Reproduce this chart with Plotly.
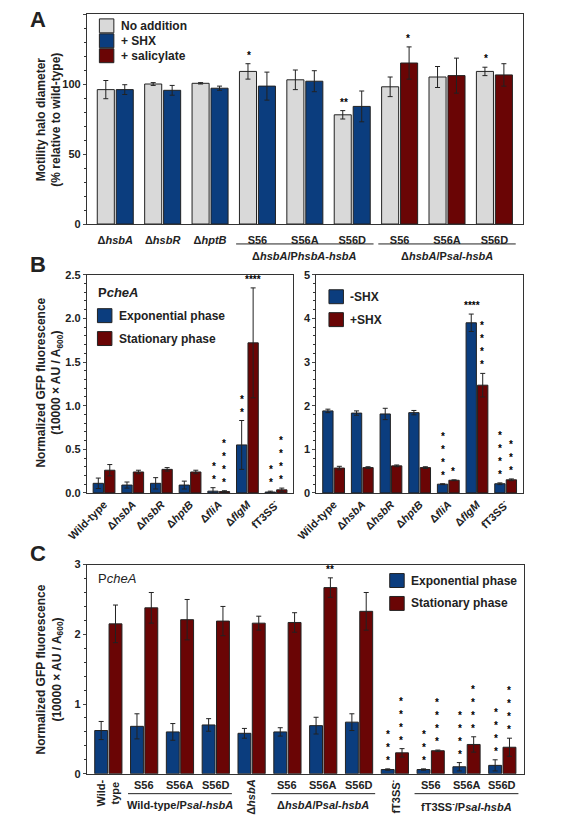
import plotly.graph_objects as go

W, H = 565, 822
GRAY, BLUE, RED = "#d9d9d9", "#0b3d7e", "#6a0505"
FONT = "Liberation Sans"

# ---------- Panel A data ----------
a_labels = ["Δ<i>hsbA</i>", "Δ<i>hsbR</i>", "Δ<i>hptB</i>", "S56", "S56A", "S56D", "S56", "S56A", "S56D"]
a_none = [96, 100, 100.5, 109, 103, 78, 98, 105, 109]
a_none_err = [6.5, 1, 0.5, 5.5, 7, 3, 7, 7.5, 3]
a_shx = [96, 95.5, 97, 98.5, 102, 84]
a_shx_err = [3.5, 3.5, 1.5, 10, 7.5, 11]
a_sal = [115, 106, 106.5]
a_sal_err = [11.5, 12.5, 8]

# ---------- Panel B data ----------
b_labels = ["Wild-type", "Δ<i>hsbA</i>", "Δ<i>hsbR</i>", "Δ<i>hptB</i>", "Δ<i>fliA</i>", "Δ<i>flgM</i>", "fT3SS<sup>-</sup>"]
bl_exp = [0.11, 0.09, 0.11, 0.09, 0.02, 0.55, 0.01]
bl_exp_err = [0.06, 0.035, 0.065, 0.045, 0.04, 0.28, 0.01]
bl_sta = [0.26, 0.24, 0.27, 0.24, 0.015, 1.72, 0.035]
bl_sta_err = [0.065, 0.02, 0.02, 0.02, 0.01, 0.63, 0.02]
br_m = [1.88, 1.83, 1.81, 1.84, 0.2, 3.9, 0.21]
br_m_err = [0.04, 0.05, 0.13, 0.05, 0.01, 0.2, 0.02]
br_p = [0.57, 0.58, 0.62, 0.58, 0.29, 2.47, 0.3]
br_p_err = [0.04, 0.02, 0.02, 0.02, 0.01, 0.27, 0.02]

# ---------- Panel C data ----------
c_labels = ["Wild-<br>type", "S56", "S56A", "S56D", "Δ<i>hsbA</i>", "S56", "S56A", "S56D",
            "fT3SS<sup>-</sup>", "S56", "S56A", "S56D"]
c_exp = [0.62, 0.68, 0.6, 0.7, 0.58, 0.6, 0.69, 0.74, 0.06, 0.06, 0.1, 0.12]
c_exp_err = [0.13, 0.18, 0.12, 0.09, 0.07, 0.06, 0.12, 0.12, 0.01, 0.01, 0.06, 0.08]
c_sta = [2.15, 2.38, 2.21, 2.19, 2.16, 2.17, 2.67, 2.33, 0.3, 0.33, 0.42, 0.38]
c_sta_err = [0.27, 0.22, 0.29, 0.21, 0.1, 0.14, 0.14, 0.27, 0.06, 0.01, 0.11, 0.13]

def px(x): return max(0.0, (x - 8) / W)
def py(y): return min(1.0, 1 - ((y - 10.1) / 0.9895) / H)

fig = go.Figure()
eb = lambda e: dict(type="data", array=e, color="#222", thickness=1, width=2.5)
mk = lambda c: dict(color=c, line=dict(color="#222", width=1))

def bar(x, y, e, c, xa, ya, og, name):
    fig.add_trace(go.Bar(x=x, y=y, error_y=eb(e), marker=mk(c), xaxis=xa, yaxis=ya,
                         offsetgroup=og, showlegend=False, name=name, width=0.36))

bar(list(range(9)), a_none, a_none_err, GRAY, "x", "y", "1", "No addition")
bar(list(range(6)), a_shx, a_shx_err, BLUE, "x", "y", "2", "+ SHX")
bar(list(range(6, 9)), a_sal, a_sal_err, RED, "x", "y", "2", "+ salicylate")
bar(list(range(7)), bl_exp, bl_exp_err, BLUE, "x2", "y2", "1", "Exponential")
bar(list(range(7)), bl_sta, bl_sta_err, RED, "x2", "y2", "2", "Stationary")
bar(list(range(7)), br_m, br_m_err, BLUE, "x3", "y3", "1", "-SHX")
bar(list(range(7)), br_p, br_p_err, RED, "x3", "y3", "2", "+SHX")
bar(list(range(12)), c_exp, c_exp_err, BLUE, "x4", "y4", "1", "Exponential")
bar(list(range(12)), c_sta, c_sta_err, RED, "x4", "y4", "2", "Stationary")

tf = dict(family=FONT, size=11, color="#222", weight="bold")
ax_common = dict(showline=True, linecolor="#333", linewidth=1, ticks="outside", ticklen=3,
                 tickfont=tf, showgrid=False, zeroline=False)

def xax(l, r, n, **kw):
    d = dict(ax_common, domain=[px(l), px(r)], range=[-0.6, n - 0.4], mirror=True)
    d.update(kw); return d
def yax(t, b, rng, dt, anchor, **kw):
    d = dict(ax_common, domain=[py(b), py(t)], range=rng, dtick=dt, anchor=anchor, mirror=True)
    d.update(kw); return d

fig.update_layout(
    width=W, height=H, margin=dict(l=0, r=0, t=0, b=0),
    paper_bgcolor="white", plot_bgcolor="white", barmode="group",
    font=dict(family=FONT, color="#222"),
    xaxis=xax(69, 521, 9, anchor="y", tickvals=list(range(9)), ticktext=a_labels, ticks="", ticklabelstandoff=6),
    yaxis=yax(10, 221, [0, 150], 50, "x", minor=dict(dtick=10, ticks="outside", ticklen=2, tickcolor="#333")),
    xaxis2=xax(69, 283, 7, anchor="y2", tickvals=list(range(7)), ticktext=b_labels, tickangle=-45, ticks=""),
    yaxis2=yax(272, 491, [0, 2.5], 0.5, "x2", tickformat=".1f", minor=dict(dtick=0.1, ticks="outside", ticklen=2, tickcolor="#333")),
    xaxis3=xax(307, 521, 7, anchor="y3", tickvals=list(range(7)), ticktext=b_labels, tickangle=-45, ticks=""),
    yaxis3=yax(272, 491, [0, 5], 1, "x3", minor=dict(dtick=0.2, ticks="outside", ticklen=2, tickcolor="#333")),
    xaxis4=xax(69, 522, 12, anchor="y4", showticklabels=False, ticks=""),
    yaxis4=yax(563, 773, [0, 3], 1, "x4", minor=dict(dtick=0.2, ticks="outside", ticklen=2, tickcolor="#333")),
)

ann = []
shapes = []
def T(x, y, text, size=11, xa="center", ya="middle", angle=0):
    ann.append(dict(x=x, y=y, text=text, xref="paper", yref="paper", xanchor=xa, yanchor=ya,
                    showarrow=False, textangle=angle, font=dict(family=FONT, size=size, color="#222")))

T(0, py(16), "<b>A</b>", 22, xa="left")
T(0, py(262), "<b>B</b>", 22, xa="left")
T(0, py(552), "<b>C</b>", 22, xa="left")

T(px(30), py(116), "<b>Motility halo diameter<br>(% relative to wild-type)</b>", 12, angle=-90)
T(px(30), py(380), "<b>Normalized GFP fluorescence<br>(10000 × AU / A<sub>600</sub>)</b>", 12, angle=-90)
T(px(30), py(668), "<b>Normalized GFP fluorescence<br>(10000 × AU / A<sub>600</sub>)</b>", 12, angle=-90)

def legend(x0, y0, items, size=12, step=22):
    for i, (c, t) in enumerate(items):
        yy = y0 + i * step
        shapes.append(dict(type="rect", xref="paper", yref="paper", x0=px(x0), x1=px(x0 + 15),
                           y0=py(yy + 7), y1=py(yy - 7), fillcolor=c, line=dict(color="#222", width=1)))
        T(px(x0 + 20), py(yy), f"<b>{t}</b>", size, xa="left")

legend(82, 22, [(GRAY, "No addition"), (BLUE, "+ SHX"), (RED, "+ salicylate")], 12, 15)
T(px(79), py(290), "<b>P<i>cheA</i></b>", 13, xa="left")
legend(80, 313, [(BLUE, "Exponential phase"), (RED, "Stationary phase")], 12, 23)
legend(320, 294, [(BLUE, "-SHX"), (RED, "+SHX")], 12, 23)
T(px(79), py(577), "P<i>cheA</i>", 13, xa="left")
legend(383, 579, [(BLUE, "Exponential phase"), (RED, "Stationary phase")], 12, 23)

O = 0.18
def star(xa, ya, x, y, s, vert=False):
    txt = "<br>".join(["*"] * s) if vert else "*" * s
    ann.append(dict(x=x, y=y, xref=xa, yref=ya, text=f"<b>{txt}</b>", showarrow=False, xanchor="center",
                    yanchor="bottom", yshift=1, font=dict(family=FONT, size=10, color="black")))

star("x", "y", 3 - O, a_none[3] + a_none_err[3], 1)
star("x", "y", 5 - O, a_none[5] + a_none_err[5], 2)
star("x", "y", 6 + O, a_sal[0] + a_sal_err[0], 1)
star("x", "y", 8 - O, a_none[8] + a_none_err[8], 1)

star("x2", "y2", 4 - O, bl_exp[4] + bl_exp_err[4], 2, True)
star("x2", "y2", 4 + O, bl_sta[4] + bl_sta_err[4], 4, True)
star("x2", "y2", 5 - O, bl_exp[5] + bl_exp_err[5], 2, True)
star("x2", "y2", 5 + O, bl_sta[5] + bl_sta_err[5], 4)
star("x2", "y2", 6 - O, bl_exp[6] + bl_exp_err[6], 2, True)
star("x2", "y2", 6 + O, bl_sta[6] + bl_sta_err[6], 4, True)

star("x3", "y3", 4 - O, br_m[4] + br_m_err[4], 4, True)
star("x3", "y3", 4 + O, br_p[4] + br_p_err[4], 1)
star("x3", "y3", 5 - O, br_m[5] + br_m_err[5], 4)
star("x3", "y3", 5 + O, br_p[5] + br_p_err[5], 4, True)
star("x3", "y3", 6 - O, br_m[6] + br_m_err[6], 4, True)
star("x3", "y3", 6 + O, br_p[6] + br_p_err[6], 3, True)

star("x4", "y4", 6 + O, c_sta[6] + c_sta_err[6], 2)
for i, (se, ss) in zip([8, 9, 10, 11], [(3, 4), (3, 4), (4, 4), (4, 4)]):
    star("x4", "y4", i - O, c_exp[i] + c_exp_err[i], se, True)
    star("x4", "y4", i + O, c_sta[i] + c_sta_err[i], ss, True)

def grp(xa, i0, i1, ypix, label, ylab):
    shapes.append(dict(type="line", xref=xa, yref="paper", x0=i0 - 0.45, x1=i1 + 0.45,
                       y0=py(ypix), y1=py(ypix), line=dict(color="#222", width=1)))
    ann.append(dict(x=(i0 + i1) / 2, y=py(ylab), xref=xa, yref="paper", text=f"<b>{label}</b>",
                    showarrow=False, yanchor="top", font=dict(family=FONT, size=11, color="#222")))

grp("x", 3, 5, 241, "Δ<i>hsbA</i>/P<i>hsbA-hsbA</i>", 245)
grp("x", 6, 8, 241, "Δ<i>hsbA</i>/P<i>sal-hsbA</i>", 245)

for i, lab in enumerate(c_labels):
    if i in (0, 4, 8):
        ann.append(dict(x=i, y=py(777), xref="x4", yref="paper", text=f"<b>{lab}</b>", showarrow=False,
                        textangle=-90, xanchor="center", yanchor="top",
                        font=dict(family=FONT, size=11, color="#222")))
    else:
        ann.append(dict(x=i, y=py(776), xref="x4", yref="paper", text=f"<b>{lab}</b>", showarrow=False,
                        yanchor="top", font=dict(family=FONT, size=11, color="#222")))
grp("x4", 1, 3, 793, "Wild-type/P<i>sal-hsbA</i>", 796)
grp("x4", 5, 7, 793, "Δ<i>hsbA</i>/P<i>sal-hsbA</i>", 796)
grp("x4", 9, 11, 793, "fT3SS<sup>-</sup>/P<i>sal-hsbA</i>", 796)

fig.update_layout(annotations=ann, shapes=shapes)
fig.write_html("out.html")
